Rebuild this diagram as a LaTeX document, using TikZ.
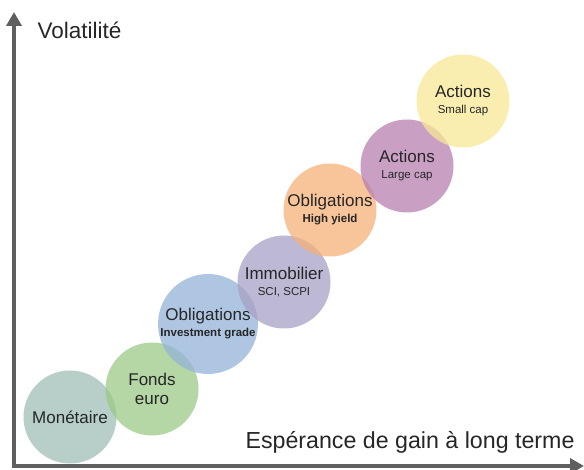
\documentclass[tikz,border=0pt]{standalone}
\usepackage{fontspec}
\setmainfont{Liberation Sans}
\usetikzlibrary{arrows.meta}
\definecolor{cmone}{RGB}{160,191,183}
\definecolor{cfond}{RGB}{156,200,135}
\definecolor{coblig}{RGB}{148,179,218}
\definecolor{cimmo}{RGB}{167,160,196}
\definecolor{chy}{RGB}{246,176,120}
\definecolor{clarge}{RGB}{183,128,176}
\definecolor{csmall}{RGB}{248,231,150}
\definecolor{caxe}{RGB}{95,95,95}
\newcommand{\petit}{\fontsize{11.5}{13}\selectfont}

\begin{document}
\begin{tikzpicture}[x=1pt,y=-1pt,
    bulle/.style={circle,minimum size=93pt,inner sep=0pt,align=center,
      fill opacity=0.75,text opacity=1,text=black!85,
      font=\fontsize{17}{19}\selectfont},
    axe/.style={draw=caxe,line width=3.5pt,{Triangle[width=15pt,length=14pt]}-{Triangle[width=15pt,length=14pt]}}]
      \useasboundingbox (0,0) rectangle (584,470);

      % axes
      \coordinate (v) at (14,12);
      \coordinate (o) at (14,466);
      \coordinate (h) at (584,466);
      \draw[axe] (v) -- (o) -- (h);

      \node[anchor=west,text=black!85,font=\fontsize{22.5}{24}\selectfont] (y) at (34,30){Volatilit\'e};
      \node[anchor=east,text=black!85,font=\fontsize{23.2}{25}\selectfont] (x) at (578,442){Esp\'erance de gain \`a long terme};

      % bulles
      \node[bulle,fill=cmone] (m) at (70,417){Mon\'etaire};
      \node[bulle,fill=cfond] (f) at (152,389){Fonds\\euro};
      \node[bulle,fill=coblig] (g) at (208,324){Obligations\\[-3pt]{\petit\bfseries Investment grade}};
      \node[bulle,fill=cimmo] (i) at (284,282){Immobilier\\[-3pt]{\petit SCI, SCPI}};
      \node[bulle,fill=chy] (r) at (330,210){Obligations\\[-3pt]{\petit\bfseries High yield}};
      \node[bulle,fill=clarge] (l) at (407,166){Actions\\[-3pt]{\petit Large cap}};
      \node[bulle,fill=csmall] (s) at (463,101){Actions\\[-3pt]{\petit Small cap}};
    \end{tikzpicture}
\end{document}
